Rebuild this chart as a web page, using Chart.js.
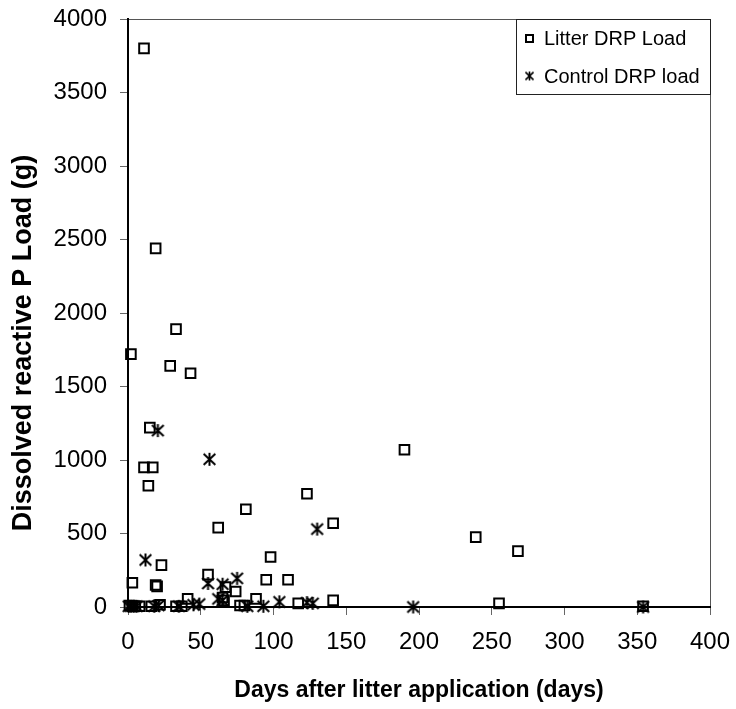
<!DOCTYPE html>
<html>
<head>
<meta charset="utf-8">
<script src="https://cdn.jsdelivr.net/npm/chart.js@4"></script>
<style>
  body { margin: 0; background: #fff; }
  canvas { display: block; }
</style>
</head>
<body>
<canvas id="drpChart" width="736" height="709"></canvas>
<script>
// values
const litterDays = [2, 11, 19, 33, 29, 43, 15, 11, 17, 14, 23, 3, 19, 20, 55, 62, 67, 74, 81, 98, 95, 110, 123, 141, 141, 117, 88, 77, 80, 65, 66, 41, 33, 37, 1, 3, 5, 8, 16, 22, 190, 239, 268, 255, 354];
const litterLoad = [1720, 3800, 2440, 1890, 1640, 1590, 1220, 950, 950, 825, 285, 165, 150, 140, 220, 540, 135, 105, 665, 340, 185, 185, 770, 570, 45, 25, 55, 10, 10, 65, 45, 55, 5, 5, 10, 5, 5, 5, 5, 15, 1070, 475, 380, 25, 5];
const controlDays = [20.5, 56, 130, 12, 55, 65, 75, 62, 65, 93, 104, 123, 127, 49, 45, 35, 2, 4, 6, 18, 21, 82, 196, 354, 0.5];
const controlLoad = [1200, 1005, 530, 320, 160, 155, 195, 55, 45, 5, 35, 30, 25, 20, 15, 5, 5, 5, 5, 5, 10, 5, 0, 0, 5];
const xTicks = [0, 50, 100, 150, 200, 250, 300, 350, 400];
const yTicks = [0, 500, 1000, 1500, 2000, 2500, 3000, 3500, 4000];
const seriesNames = ['Litter DRP Load', 'Control DRP load'];

const FONT = '"Liberation Sans", Arial, sans-serif';

// asterisk marker: vertical bar plus an X
function makeStar(size, lw){
    const c = document.createElement('canvas');
    c.width = size; c.height = size;
    const g = c.getContext('2d');
    const m = size / 2, r = m - 1;
    g.strokeStyle = '#000';
    g.lineWidth = lw;
    g.beginPath();
    g.moveTo(m, m - r); g.lineTo(m, m + r);
    g.moveTo(m - r * 0.9, m - r * 0.85); g.lineTo(m + r * 0.9, m + r * 0.85);
    g.moveTo(m + r * 0.9, m - r * 0.85); g.lineTo(m - r * 0.9, m + r * 0.85);
    g.stroke();
    return c;
}
const starBig = makeStar(15, 2);
const starSmall = makeStar(11, 1.6);

const zip = (xs, ys) => xs.map((x, i) => ({x: x, y: ys[i]}));

const framePlugin = {
    id: 'frame',
    beforeDraw(chart){
        const {ctx, chartArea: a} = chart;
        ctx.save();
        ctx.fillStyle = '#fff';
        ctx.fillRect(0, 0, chart.width, chart.height);
        ctx.strokeStyle = '#555';
        ctx.lineWidth = 1;
        ctx.strokeRect(a.left + 0.5, a.top + 0.5, a.right - a.left, a.bottom - a.top);
        ctx.restore();
    },
    afterDraw(chart){
        const {ctx, chartArea: a} = chart;
        ctx.save();
        // y axis title (sits a little below the plot centre, like the original)
        ctx.translate(24, (a.top + a.bottom) / 2 + 30);
        ctx.rotate(-Math.PI / 2);
        ctx.font = 'bold 27px ' + FONT;
        ctx.fillStyle = '#000';
        ctx.textAlign = 'center';
        ctx.textBaseline = 'middle';
        ctx.fillText('Dissolved reactive P Load (g)', 0, 0);
        ctx.restore();

        // legend box in the top right corner of the plot
        const w = 194, h = 75;
        const lx = a.right - w, ly = a.top;
        ctx.save();
        ctx.fillStyle = '#fff';
        ctx.fillRect(lx, ly, w, h);
        ctx.strokeStyle = '#222';
        ctx.lineWidth = 1;
        ctx.strokeRect(lx + 0.5, ly + 0.5, w, h);
        ctx.lineWidth = 2;
        ctx.strokeStyle = '#000';
        ctx.strokeRect(lx + 10, ly + 16, 7, 7);
        ctx.drawImage(starSmall, lx + 13.5 - starSmall.width / 2, ly + 57 - starSmall.height / 2);
        ctx.font = '20px ' + FONT;
        ctx.fillStyle = '#000';
        ctx.textBaseline = 'middle';
        ctx.fillText(seriesNames[0], lx + 28, ly + 20);
        ctx.fillText(seriesNames[1], lx + 28, ly + 58);
        ctx.restore();
    }
};

new Chart(document.getElementById('drpChart'), {
    type: 'scatter',
    data: {
        datasets: [{
            label: seriesNames[0],
            data: zip(litterDays, litterLoad),
            pointStyle: 'rect',
            pointRadius: 6.8,
            borderWidth: 2,
            borderColor: '#000',
            backgroundColor: 'rgba(0,0,0,0)',
            clip: false
        }, {
            label: seriesNames[1],
            data: zip(controlDays, controlLoad),
            pointStyle: starBig,
            pointRadius: 7,
            borderColor: '#000',
            backgroundColor: '#000',
            clip: false
        }]
    },
    options: {
        responsive: false,
        animation: false,
        devicePixelRatio: 1,
        layout: { autoPadding: false, padding: { top: 19, right: 26, left: 0, bottom: 0 } },
        plugins: {
            legend: { display: false },
            tooltip: { enabled: false }
        },
        scales: {
            x: {
                type: 'linear',
                min: 0, max: 400,
                afterBuildTicks: (s) => { s.ticks = xTicks.map(v => ({value: v})); },
                afterFit: (s) => { s.height = 102; s.paddingLeft = 0; s.paddingRight = 0; },
                border: { color: '#000', width: 2 },
                grid: { drawOnChartArea: false, color: '#666', tickLength: 8 },
                ticks: { color: '#000', padding: 13, font: { family: FONT, size: 24 },
                    callback: (v) => String(v) },
                title: {
                    display: true,
                    text: 'Days after litter application (days)',
                    color: '#000',
                    padding: { top: 0, bottom: 5 },
                    font: { family: FONT, size: 23, weight: 'bold' }
                }
            },
            y: {
                type: 'linear',
                min: 0, max: 4000,
                afterBuildTicks: (s) => { s.ticks = yTicks.map(v => ({value: v})); },
                afterFit: (s) => { s.width = 128; s.paddingTop = 0; s.paddingBottom = 0; },
                border: { color: '#000', width: 2 },
                grid: { drawOnChartArea: false, color: '#666', tickLength: 8 },
                ticks: { color: '#000', padding: 13, font: { family: FONT, size: 24 },
                    callback: (v) => String(v) }
            }
        }
    },
    plugins: [framePlugin]
});
</script>
</body>
</html>
